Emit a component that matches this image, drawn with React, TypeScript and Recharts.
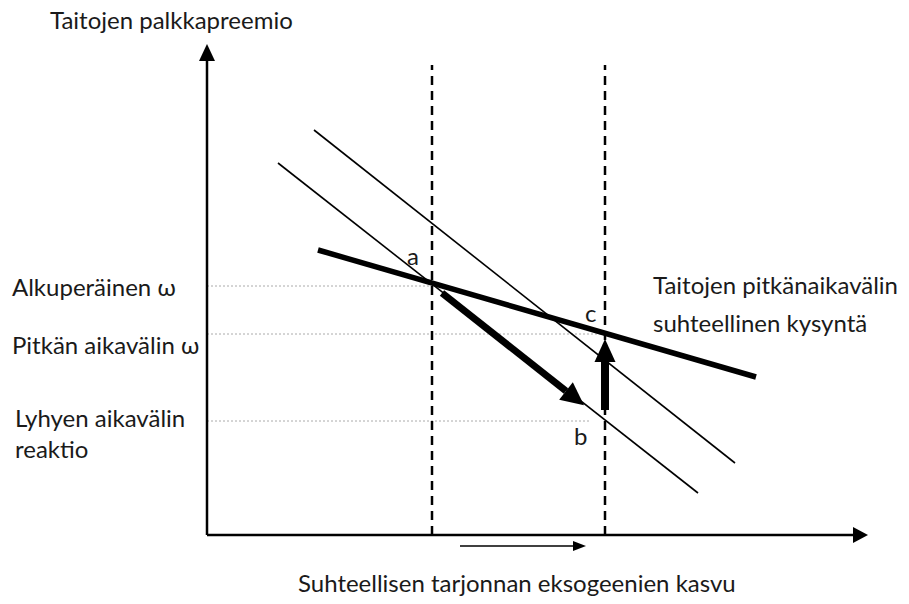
import React from "react";
import { ComposedChart, ReferenceLine, ReferenceDot, XAxis, YAxis } from "recharts";

// origin = axis corner, 1 unit = 1 px, y grows upward
interface Pt {
  x: number;
  y: number;
}

const yAxisLine: Pt[] = [
  { x: 0, y: 0 },
  { x: 0, y: 474 },
];
const xAxisLine: Pt[] = [
  { x: 0, y: 0 },
  { x: 646, y: 0 },
];
const shiftLeft: Pt[] = [
  { x: 225, y: 0 },
  { x: 225, y: 470 },
];
const shiftRight: Pt[] = [
  { x: 398, y: 0 },
  { x: 398, y: 470 },
];
const guideOriginal: Pt[] = [
  { x: 0, y: 249 },
  { x: 225, y: 249 },
];
const guideLongRun: Pt[] = [
  { x: 0, y: 201 },
  { x: 398, y: 201 },
];
const guideShortRun: Pt[] = [
  { x: 0, y: 114 },
  { x: 383, y: 114 },
];
const demandOld: Pt[] = [
  { x: 71, y: 372 },
  { x: 491, y: 42 },
];
const demandNew: Pt[] = [
  { x: 107, y: 405 },
  { x: 528, y: 72 },
];
const longRunDemand: Pt[] = [
  { x: 111, y: 285 },
  { x: 549, y: 158 },
];
const shortRunMove: Pt[] = [
  { x: 235, y: 242 },
  { x: 359, y: 144 },
];
const longRunMove: Pt[] = [
  { x: 398, y: 125 },
  { x: 398, y: 173 },
];
const supplyGrowth: Pt[] = [
  { x: 253, y: -11 },
  { x: 366, y: -11 },
];

interface Seg {
  pts: Pt[];
  width: number;
  color?: string;
  dash?: string;
  head?: [number, number];
}

const segments: Seg[] = [
  { pts: guideOriginal, width: 1, color: "#aaa", dash: "2 2" },
  { pts: guideLongRun, width: 1, color: "#aaa", dash: "2 2" },
  { pts: guideShortRun, width: 1, color: "#aaa", dash: "2 2" },
  { pts: shiftLeft, width: 2.5, dash: "9 6" },
  { pts: shiftRight, width: 2.5, dash: "9 6" },
  { pts: demandOld, width: 1.6 },
  { pts: demandNew, width: 1.6 },
  { pts: longRunDemand, width: 5.5 },
  { pts: yAxisLine, width: 2.5, head: [17, 16] },
  { pts: xAxisLine, width: 2.5, head: [15, 16] },
  { pts: shortRunMove, width: 7, head: [23, 22] },
  { pts: longRunMove, width: 8, head: [23, 21] },
  { pts: supplyGrowth, width: 1.6, head: [13, 10] },
];

const arrowHead = (data: Pt[], len: number, wid: number) => (props: any) => {
  const { cx, cy } = props;
  const a = data[0];
  const b = data[1];
  let ux = b.x - a.x;
  let uy = -(b.y - a.y);
  const m = Math.hypot(ux, uy);
  ux /= m;
  uy /= m;
  const px = -uy;
  const py = ux;
  const tip = `${cx + ux * len},${cy + uy * len}`;
  const l = `${cx + (px * wid) / 2},${cy + (py * wid) / 2}`;
  const r = `${cx - (px * wid) / 2},${cy - (py * wid) / 2}`;
  return <polygon points={`${tip} ${l} ${r}`} fill="#000" stroke="none" />;
};

const font = "Lato, 'Open Sans', sans-serif";

const labels = [
  { text: "Taitojen palkkapreemio", x: 50, y: 20 },
  { text: "Alkuperäinen ω", x: 12, y: 287 },
  { text: "Pitkän aikavälin ω", x: 12, y: 345 },
  { text: "Lyhyen aikavälin", x: 15, y: 418 },
  { text: "reaktio", x: 15, y: 449 },
  { text: "a", x: 407, y: 256 },
  { text: "c", x: 585, y: 313 },
  { text: "b", x: 574, y: 436 },
  { text: "Taitojen pitkänaikavälin", x: 653, y: 285 },
  { text: "suhteellinen kysyntä", x: 653, y: 323 },
  { text: "Suhteellisen tarjonnan eksogeenien kasvu", x: 298, y: 583 },
];

export default function App() {
  return (
    <div style={{ position: "absolute", left: 0, top: 0, width: 909, height: 604, background: "#fff" }}>
      <ComposedChart width={909} height={604} margin={{ top: 0, right: 0, bottom: 0, left: 0 }}>
        <XAxis type="number" dataKey="x" domain={[-207, 702]} hide allowDataOverflow />
        <YAxis type="number" domain={[-69, 535]} hide allowDataOverflow />
        {segments.map((s, i) => (
          <ReferenceLine
            key={`s${i}`}
            segment={s.pts}
            stroke={s.color ?? "#000"}
            strokeWidth={s.width}
            strokeDasharray={s.dash}
            ifOverflow="visible"
          />
        ))}
        {segments
          .filter((s) => s.head)
          .map((s, i) => (
            <ReferenceDot
              key={`h${i}`}
              x={s.pts[1].x}
              y={s.pts[1].y}
              r={1}
              ifOverflow="visible"
              shape={arrowHead(s.pts, s.head![0], s.head![1])}
            />
          ))}
      </ComposedChart>
      {labels.map((l) => (
        <div
          key={l.text}
          style={{
            position: "absolute",
            left: l.x,
            top: l.y - 15,
            height: 30,
            lineHeight: "30px",
            fontFamily: font,
            fontSize: 24,
            color: "#1a1a1a",
            whiteSpace: "nowrap",
          }}
        >
          {l.text}
        </div>
      ))}
    </div>
  );
}
